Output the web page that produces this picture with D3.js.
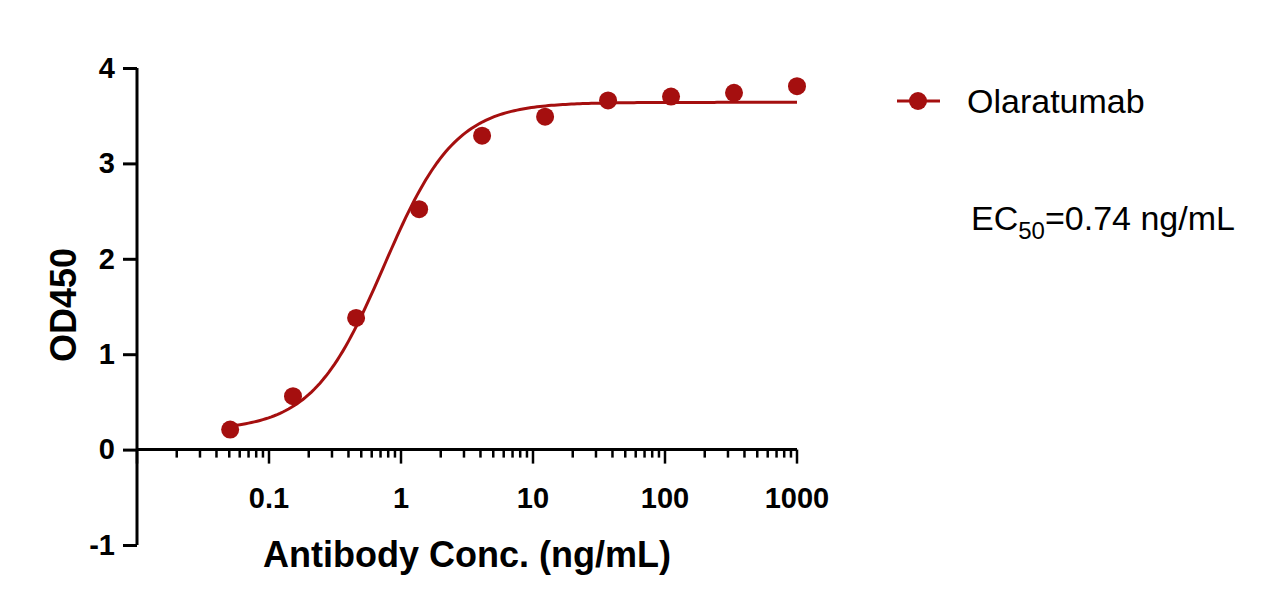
<!DOCTYPE html>
<html><head><meta charset="utf-8">
<script src="https://cdn.jsdelivr.net/npm/d3@7"></script>
<style>body{margin:0;background:#fff}text{font-family:Arial,"Liberation Sans",sans-serif}</style>
</head><body><svg id="c" width="1285" height="610"></svg>
<script>
const conc = [0.0508, 0.152, 0.457, 1.372, 4.115, 12.35, 37.04, 111.1, 333.3, 1000];
const od = [0.21, 0.56, 1.38, 2.52, 3.29, 3.49, 3.66, 3.70, 3.74, 3.81];
const fitParams = {bottom: 0.2, top: 3.64, ec50: 0.74, hill: 1.6};
const xTickLabels = [0.1, 1, 10, 100, 1000];
const yTickLabels = [-1, 0, 1, 2, 3, 4];
const color = "#a50f0f";

const svg = d3.select("#c");
const x = d3.scaleLog().domain([0.01, 1000]).range([137, 797]);
const y = d3.scaleLinear().domain([-1, 4]).range([545, 68]);

const ya = svg.append("g").attr("transform","translate(137,0)")
  .call(d3.axisLeft(y).tickValues(yTickLabels).tickFormat(d=>String(d)).tickSize(14).tickPadding(8));
ya.select(".domain").attr("stroke-width",3).attr("d","M0,"+y(-1)+"V"+y(4)).attr("stroke","#000");
ya.selectAll(".tick line").attr("stroke-width",3);
ya.selectAll("text").attr("font-size",29).attr("font-weight","bold");

const minor = [];
for (let e=-2;e<3;e++) for (let k=1;k<10;k++) minor.push(k*Math.pow(10,e));
minor.push(1000);
const xg = svg.append("g").attr("transform","translate(0,"+y(0)+")");
xg.append("line").attr("x1",137).attr("x2",797).attr("stroke","#000").attr("stroke-width",3);
xg.selectAll("line.t").data(minor).enter().append("line")
  .attr("x1",d=>x(d)).attr("x2",d=>x(d)).attr("y1",0)
  .attr("y2",d=>xTickLabels.includes(d)||d===0.01?14:8)
  .attr("stroke","#000").attr("stroke-width",2.5);
xg.selectAll("text").data(xTickLabels).enter().append("text")
  .attr("x",d=>x(d)).attr("y",58).attr("text-anchor","middle")
  .attr("font-size",29).attr("font-weight","bold").text(d=>d);

svg.append("text").attr("x",467).attr("y",567).attr("text-anchor","middle")
  .attr("font-size",36).attr("font-weight","bold").text("Antibody Conc. (ng/mL)");
svg.append("text").attr("transform","translate(76,305) rotate(-90)").attr("text-anchor","middle")
  .attr("font-size",36).attr("font-weight","bold").text("OD450");

const f = c => fitParams.bottom + (fitParams.top-fitParams.bottom)/(1+Math.pow(fitParams.ec50/c, fitParams.hill));
const xs = d3.range(0,201).map(i=>Math.pow(10, Math.log10(0.047) + i/200*(3-Math.log10(0.047))));
svg.append("path").datum(xs).attr("fill","none").attr("stroke",color).attr("stroke-width",3)
  .attr("d", d3.line().x(d=>x(d)).y(d=>y(f(d))));
svg.selectAll("circle.p").data(conc).enter().append("circle")
  .attr("cx",d=>x(d)).attr("cy",(d,i)=>y(od[i])).attr("r",9).attr("fill",color);

svg.append("line").attr("x1",897).attr("x2",940).attr("y1",101).attr("y2",101).attr("stroke",color).attr("stroke-width",3);
svg.append("circle").attr("cx",918).attr("cy",101).attr("r",9).attr("fill",color);
svg.append("text").attr("x",967).attr("y",113).attr("font-size",34).text("Olaratumab");
const ec = svg.append("text").attr("x",971).attr("y",230).attr("font-size",34);
ec.append("tspan").text("EC");
ec.append("tspan").attr("font-size",24).attr("dy",9).text("50");
ec.append("tspan").attr("dy",-9).text("=0.74 ng/mL");
</script></body></html>
